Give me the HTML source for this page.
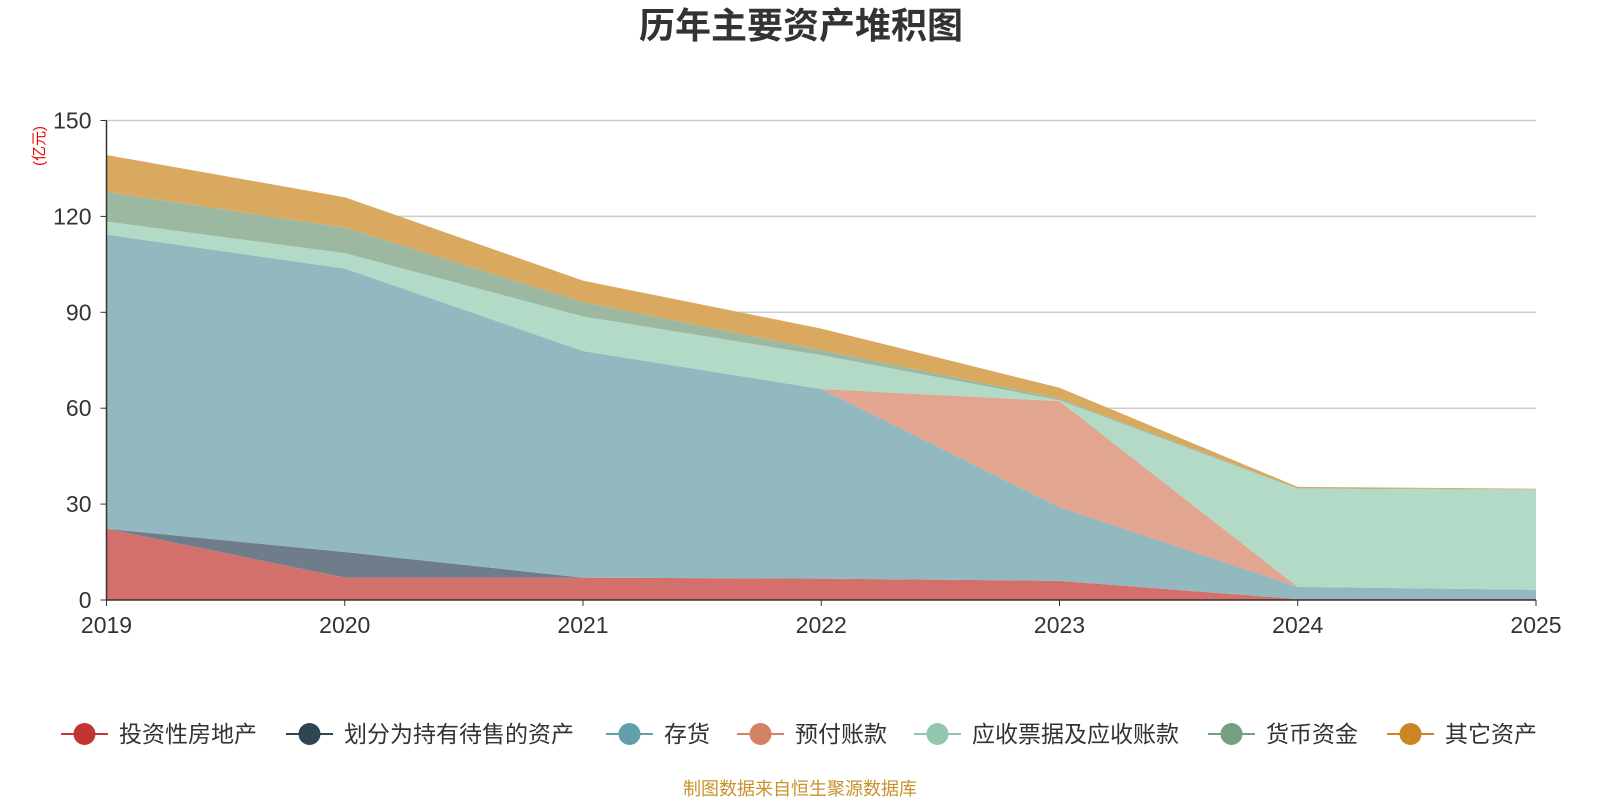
<!DOCTYPE html>
<html><head><meta charset="utf-8"><style>
body{margin:0;background:#fff;font-family:"Liberation Sans","Noto Sans CJK SC",sans-serif;}
svg text{font-family:"Liberation Sans","Noto Sans CJK SC",sans-serif;}
</style></head><body>
<svg id="chart" width="1600" height="800" xmlns="http://www.w3.org/2000/svg">
<text x="801" y="38" text-anchor="middle" font-size="36" font-weight="bold" fill="#333">历年主要资产堆积图</text>
<text transform="translate(44,146) rotate(-90)" text-anchor="middle" font-size="15" fill="#e00">(亿元)</text>
<g id="grid"></g><g id="areas"></g><g id="axes"></g>
<g id="legend"></g>
<text x="800" y="795" text-anchor="middle" font-size="18" fill="#c8922a">制图数据来自恒生聚源数据库</text>
</svg>
<script>
const years=["2019","2020","2021","2022","2023","2024","2025"];
const seriesNames=["投资性房地产","划分为持有待售的资产","存货","预付账款","应收票据及应收账款","货币资金","其它资产"];
const invest=[22.3,7,7,6.7,6,0.3,0.3];
const heldForSale=[0,8,0,0,0,0,0];
const inventory=[92,88.7,70.9,59.3,23,3.8,2.9];
const prepaid=[0,0,0,0,33.2,0,0];
const receivables=[4.1,4.8,10.8,10.6,0.3,30.7,31.3];
const cash=[9.3,8,4.5,1.6,0.5,0.2,0.1];
const other=[11.5,9.5,6.7,6.7,3.4,0.4,0.2];
const yTicks=[0,30,60,90,120,150];
const seriesData=[invest,heldForSale,inventory,prepaid,receivables,cash,other];
const fills=["#d4706c","#6e7d89","#92b9bf","#e2a590","#b3d9c7","#9cb8a1","#d9a95f"];
const markers=["#c23531","#2f4554","#61a0a8","#d48265","#91c7ae","#749f83","#ca8622"];
const NS="http://www.w3.org/2000/svg";
const X0=106.5,X1=1536,Y0=600,Y1=120.5;
const xs=i=>X0+(X1-X0)*i/(years.length-1);
const ys=v=>Y0-(Y0-Y1)*v/150;
function mk(t,a,p){const e=document.createElementNS(NS,t);for(const k in a)e.setAttribute(k,a[k]);p.appendChild(e);return e;}
const grid=document.getElementById('grid');
yTicks.forEach(v=>{
 if(v>0){const l=mk('line',{x1:X0,x2:X1,y1:ys(v),y2:ys(v),stroke:'#ccc','stroke-width':1.5},grid);
 
 }
 const t=mk('text',{x:X0-15,y:ys(v)+8,'text-anchor':'end','font-size':23,fill:'#333'},grid);t.textContent=v;
 
 
});
const areas=document.getElementById('areas');
let base=years.map(()=>0);
seriesData.forEach((s,k)=>{
 const top=base.map((b,i)=>b+s[i]);
 let d='M'+years.map((_,i)=>xs(i)+','+ys(top[i])).join('L');
 for(let i=years.length-1;i>=0;i--)d+='L'+xs(i)+','+ys(base[i]);
 const p=mk('path',{d:d+'Z',fill:fills[k]},areas);
 
 
 base=top;
});
const axes=document.getElementById('axes');
mk('line',{x1:X0,x2:X0,y1:Y1,y2:Y0,stroke:'#333','stroke-width':1.5},axes);
mk('line',{x1:X0,x2:X1,y1:Y0,y2:Y0,stroke:'#333','stroke-width':1.5},axes);
yTicks.forEach(v=>mk('line',{x1:X0-6,x2:X0,y1:ys(v),y2:ys(v),stroke:'#333'},axes));
years.forEach((y,i)=>{
 mk('line',{x1:xs(i),x2:xs(i),y1:Y0,y2:Y0+6,stroke:'#333'},axes);
 const t=mk('text',{x:xs(i),y:Y0+33,'text-anchor':'middle','font-size':23,fill:'#333'},axes);t.textContent=y;
 
 
});
const lg=document.getElementById('legend');
const lx=[61,286,606,737,914,1208,1387];
seriesNames.forEach((n,k)=>{
 const g=mk('g',{},lg);
 
 
 mk('line',{x1:lx[k],x2:lx[k]+47,y1:734,y2:734,stroke:markers[k],'stroke-width':2},g);
 mk('circle',{cx:lx[k]+23.5,cy:734,r:11,fill:markers[k]},g);
 const t=mk('text',{x:lx[k]+58,y:742,'font-size':23,fill:'#333'},g);t.textContent=n;
});
</script>
</body></html>
